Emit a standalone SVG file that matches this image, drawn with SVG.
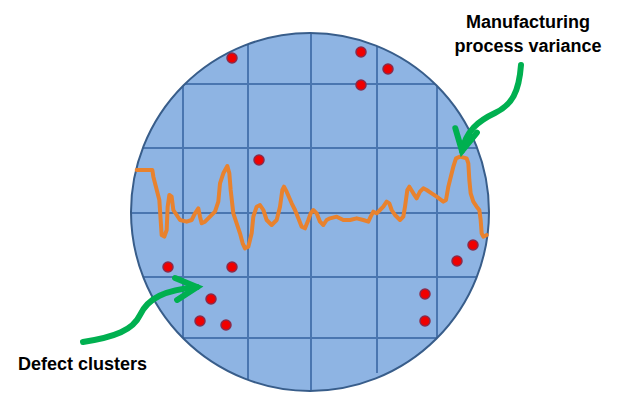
<svg xmlns="http://www.w3.org/2000/svg" width="624" height="406" viewBox="0 0 624 406">
<style>
.grid{stroke:#4A76B0;stroke-width:2;fill:none}
.dot{fill:#F00000;stroke:#8B2A4A;stroke-width:1.5}
.lbl{font-family:"Liberation Sans",Arial,sans-serif;font-weight:bold;font-size:18px;fill:#000}
.arrow{fill:none;stroke:#00B050;stroke-width:6;stroke-linecap:round;stroke-linejoin:round}
</style>
<defs>
<clipPath id="wclip"><circle cx="310" cy="212" r="179"/></clipPath>
<marker id="chev" viewBox="-30 -16 36 32" refX="0" refY="0" markerWidth="36" markerHeight="32" markerUnits="userSpaceOnUse" orient="auto" overflow="visible">
<path d="M-21,-11 L0,0 L-21,11" fill="none" stroke="#00B050" stroke-width="6" stroke-linecap="round" stroke-linejoin="miter"/>
</marker>
</defs>
<rect width="624" height="406" fill="#FFFFFF"/>
<g id="wafer">
<circle cx="310" cy="212" r="179" fill="#8EB4E3"/>
<g clip-path="url(#wclip)" class="grid">
<line x1="183" y1="0" x2="183" y2="406"/>
<line x1="248" y1="0" x2="248" y2="406"/>
<line x1="311" y1="0" x2="311" y2="406"/>
<line x1="377" y1="0" x2="377" y2="373"/>
<line x1="437" y1="0" x2="437" y2="406"/>
<line x1="0" y1="84" x2="624" y2="84"/>
<line x1="0" y1="148" x2="624" y2="148"/>
<line x1="0" y1="213" x2="624" y2="213"/>
<line x1="0" y1="277" x2="624" y2="277"/>
<line x1="0" y1="338" x2="624" y2="338"/>
</g>
<circle cx="310" cy="212" r="179" fill="none" stroke="#385D8A" stroke-width="2"/>
</g>
<g id="defects">
<circle class="dot" cx="232" cy="58" r="5"/>
<circle class="dot" cx="361" cy="52" r="5"/>
<circle class="dot" cx="388" cy="69" r="5"/>
<circle class="dot" cx="361" cy="85" r="5"/>
<circle class="dot" cx="259" cy="160" r="5"/>
<circle class="dot" cx="168" cy="267" r="5"/>
<circle class="dot" cx="232" cy="267" r="5"/>
<circle class="dot" cx="211" cy="299" r="5"/>
<circle class="dot" cx="200" cy="321" r="5"/>
<circle class="dot" cx="226" cy="325" r="5"/>
<circle class="dot" cx="473" cy="245" r="5"/>
<circle class="dot" cx="457" cy="261" r="5"/>
<circle class="dot" cx="425" cy="294" r="5"/>
<circle class="dot" cx="425" cy="321" r="5"/>
</g>
<g id="variance-trace" transform="translate(120,20) scale(0.33333)">
<path d="M50,450 L97,450 L100,470 L118,540 L122,600 L125,645 L133,650 L140,630 L143,560 L148,525 L155,530 L160,570 L180,600 L200,605 L215,600 L225,580 L235,565 L240,590 L245,610 L255,605 L270,590 L285,575 L295,545 L300,490 L310,460 L322,438 L328,460 L332,510 L340,580 L350,610 L360,640 L368,670 L375,685 L385,680 L395,640 L400,590 L410,560 L420,555 L430,570 L440,600 L455,615 L470,600 L480,560 L487,510 L492,500 L500,515 L515,550 L525,570 L535,595 L545,620 L555,625 L565,600 L572,580 L580,570 L590,580 L600,605 L610,615 L620,600 L630,595 L650,590 L670,600 L690,600 L710,595 L730,600 L745,605 L752,590 L760,575 L770,580 L780,570 L790,560 L800,545 L808,550 L815,570 L825,585 L840,600 L850,590 L855,560 L862,510 L868,500 L880,520 L890,535 L900,515 L910,505 L920,510 L935,520 L950,530 L970,545 L978,540 L985,500 L990,480 L1000,440 L1008,415 L1020,410 L1040,415 L1045,430 L1048,480 L1052,520 L1060,545 L1070,560 L1078,570 L1082,600 L1085,640 L1090,650 L1100,645" fill="none" stroke="#E8822E" stroke-width="12" stroke-linejoin="round" stroke-linecap="round"/>
</g>
<g id="label-variance">
<text class="lbl" x="528" y="28" text-anchor="middle">Manufacturing</text>
<text class="lbl" x="528" y="52" text-anchor="middle">process variance</text>
</g>
<g id="label-defects">
<text class="lbl" x="18" y="370">Defect clusters</text>
</g>
<g id="connectors">
<path class="arrow" d="M521,65 C519,92 512,105 495,113 C478,121 466,131 462,151" marker-end="url(#chev)"/>
<path class="arrow" d="M83,342 C115,337 133,330 140,315 C148,298 165,290 197,287" marker-end="url(#chev)"/>
</g>
</svg>
